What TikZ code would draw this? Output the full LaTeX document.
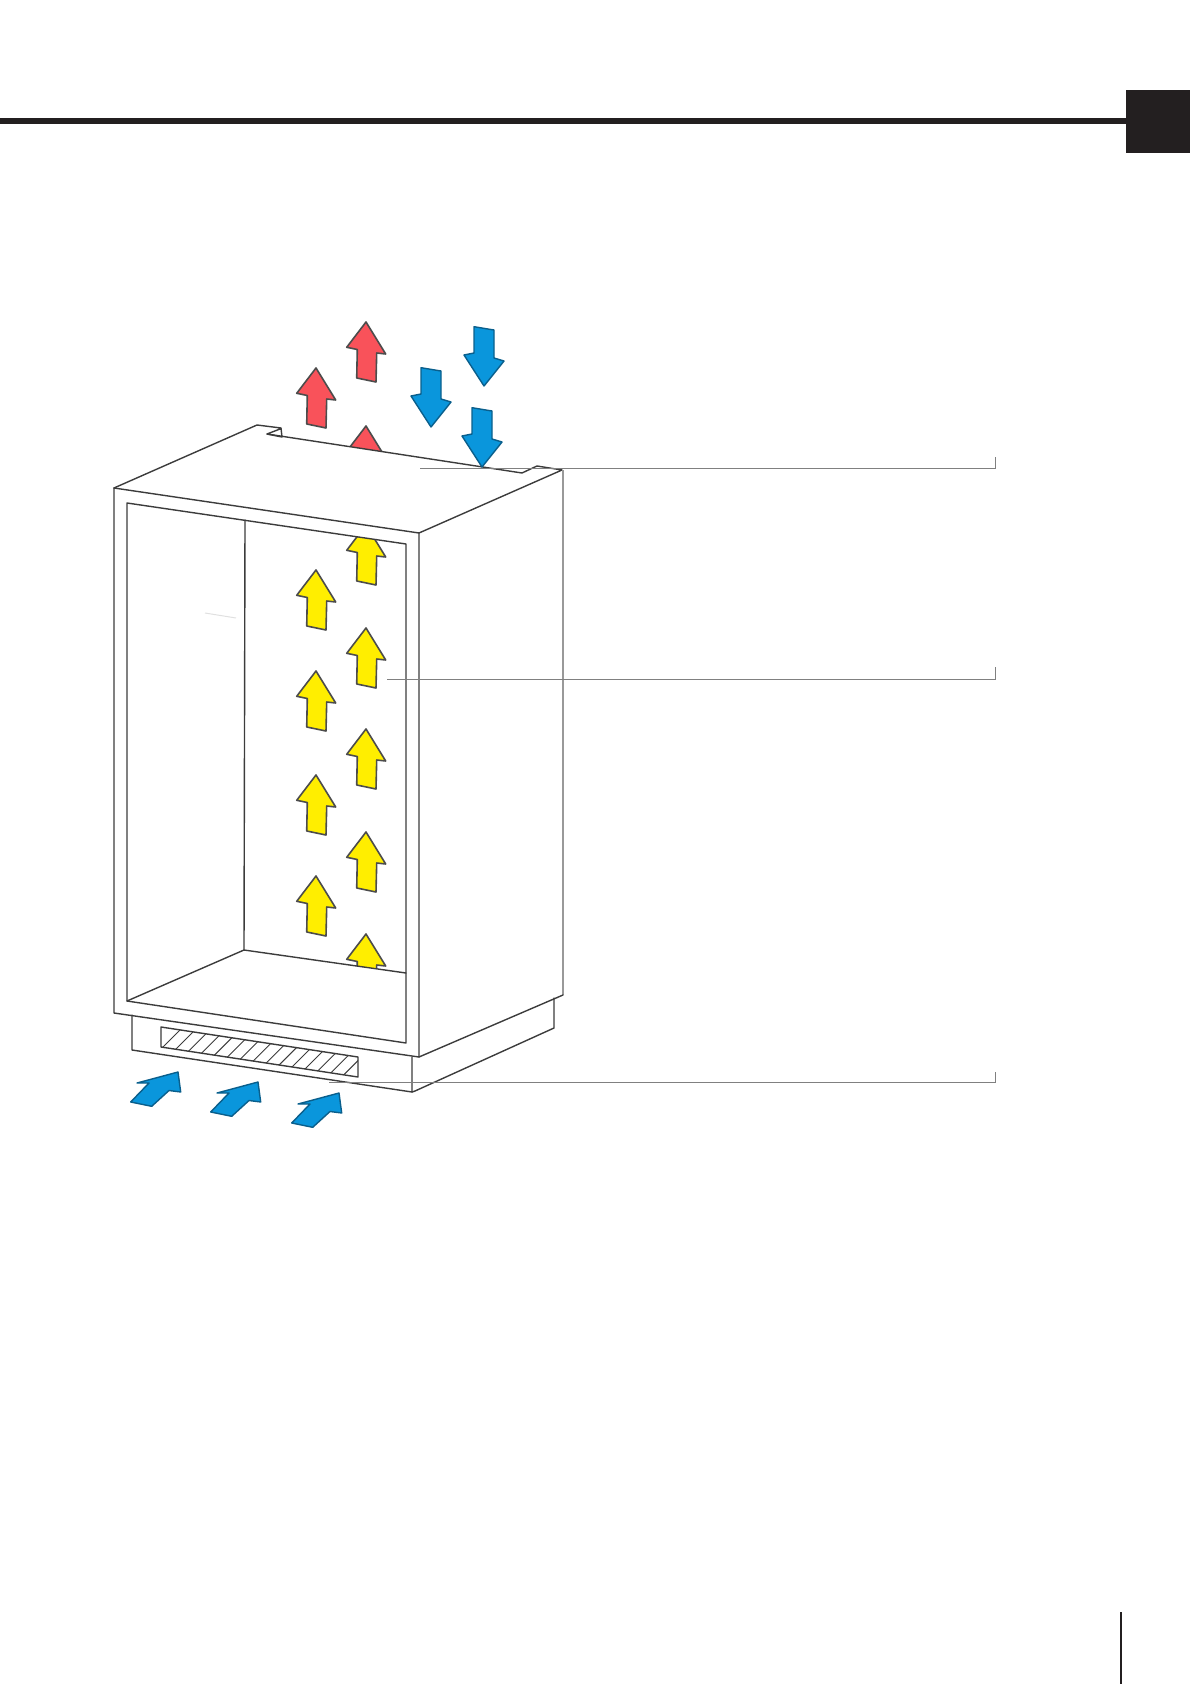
\documentclass[tikz,border=0pt]{standalone}
\definecolor{inkblack}{HTML}{231F20}
\definecolor{cabline}{HTML}{3C3C3C}
\definecolor{leader}{HTML}{808080}
\definecolor{airred}{HTML}{F9525A}
\definecolor{airblue}{HTML}{0A96DC}
\definecolor{airyellow}{HTML}{FFEE00}
\definecolor{blueedge}{HTML}{0A5F8C}
\tikzset{
  px/.style={x=0.5pt,y=-0.5pt},
  cab/.style={draw=cabline,line width=0.7pt,line join=round,line cap=round},
  softcab/.style={draw=black!40,line width=1pt},
  leaderline/.style={draw=leader,line width=0.45pt},
  arrowshape/.style={draw=black!70,line width=0.8pt,line join=round},
  bluearrowshape/.style={draw=blueedge,line width=0.7pt,line join=round},
  pics/uparrow/.style={code={
    \path[arrowshape,fill=#1] (0,0)--(19.7,32)--(10.7,31)--(10,60)--(-9.3,56)--(-8.7,27.5)--(-19.3,25.3)--cycle;}},
  pics/downarrow/.style={code={
    \path[bluearrowshape,fill=#1] (0,0)--(20,-25)--(10,-28)--(10,-56)--(-10,-59.3)--(-10,-33)--(-20,-31)--cycle;}},
  pics/slantarrow/.style={code={
    \path[bluearrowshape,fill=#1] (0,0)--(2.7,20)--(-9,18.5)--(-26.3,34.3)--(-47.3,30)--(-29,11)--(-41,11)--cycle;}},
}
\begin{document}
\begin{tikzpicture}[px]
\useasboundingbox (0,0) rectangle (1191,1684);
% header
\fill[inkblack] (0,118) rectangle (1127,124);
\fill[inkblack] (1126,90) rectangle (1190,153);
\fill[inkblack] (1120.2,1612) rectangle (1122,1684);
% arrows behind the cabinet
\foreach \ax/\ay in {366/322,316/368,366/426} \pic at (\ax,\ay) {uparrow=airred};
\foreach \ax/\ay in {366/525,316/570,366/628,316/671,366/729,316/775,366/832,316/876,366/934} \pic at (\ax,\ay) {uparrow=airyellow};
% top panel and frame strip cover arrows
\path[fill=white] (114,488)--(257,425)--(282,428)--(282,437)--(267,434)--(522,473)--(537,466)--(562,470)--(419,533)--(419,560)--(406,544)--(127,503)--(114,510)--cycle;
% floor covers arrow
\path[fill=white] (127,1001)--(244,950)--(406,973)--(406,1043)--cycle;
% cabinet top
\path[cab] (114,488)--(257,425)--(281,428)--(282,437)--(267,434)--(280,429);
\path[cab] (267,434)--(522,473)--(537,466)--(562,470)--(419,533)--(114,488);
% front outer
\path[cab] (114,488)--(114,1013)--(419,1057)--(419,533);
% inner frame
\path[cab] (127,1001)--(127,503)--(406,544)--(406,1043)--(127,1001);
% back inner wall and floor
\path[cab] (245,520)--(244,950);
\path[cab] (127,1001)--(244,950)--(406,973);
% right side
\path[softcab] (563,470)--(563,995);
\path[cab] (419,1057)--(563,995);
% plinth
\path[cab] (132,1015)--(132,1050)--(412,1092)--(412,1057);
\path[cab] (412,1092)--(415,1091)--(554,1028)--(554,998);
% grille
\path[cab] (161,1027)--(358,1057)--(358,1077)--(161,1047)--cycle;
\begin{scope}
\clip (161,1027)--(358,1057)--(358,1077)--(161,1047)--cycle;
\foreach \hx in {0,...,14} \draw[draw=cabline,line width=0.45pt] ({182+\hx*12.9},{1028+\hx*2}) -- ({182+\hx*12.9-24},{1028+\hx*2+24});
\end{scope}
% faint mark
\draw[draw=black!12,line width=0.5pt] (205,613)--(236,618);
% blue arrows
\foreach \ax/\ay in {484/386,431/427,482/467} \pic at (\ax,\ay) {downarrow=airblue};
\foreach \ax/\ay in {178/1072,258/1082,339/1093} \pic at (\ax,\ay) {slantarrow=airblue};
% leaders
\path[leaderline] (420,468)--(995.5,468)--(995.5,457);
\path[leaderline] (387,679)--(995.5,679)--(995.5,667);
\path[leaderline] (329,1082)--(995.5,1082)--(995.5,1072);
\end{tikzpicture}
\end{document}
